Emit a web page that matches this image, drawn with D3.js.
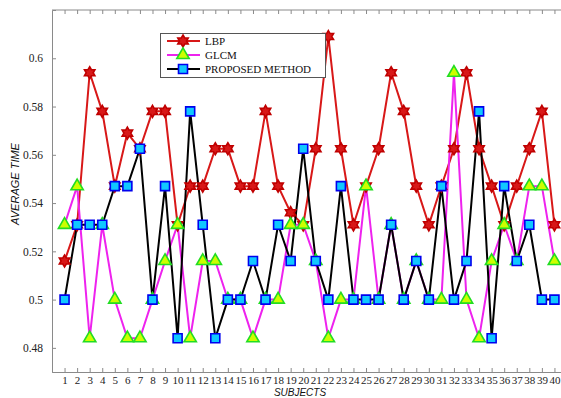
<!DOCTYPE html>
<html>
<head>
<meta charset="utf-8">
<script src="https://cdn.jsdelivr.net/npm/d3@7"></script>
<style>
  body { margin: 0; background: #fff; }
  svg { display: block; }
</style>
</head>
<body>
<div id="chart"></div>
<script>
const subjects = d3.range(1, 41);
const yTicks = [0.48, 0.5, 0.52, 0.54, 0.56, 0.58, 0.6];

const lbp = [0.516, 0.531, 0.594, 0.578, 0.547, 0.569, 0.5625, 0.578, 0.578, 0.531,
  0.547, 0.547, 0.5625, 0.5625, 0.547, 0.547, 0.578, 0.547, 0.536, 0.531,
  0.5625, 0.609, 0.5625, 0.531, 0.547, 0.5625, 0.594, 0.578, 0.547, 0.531,
  0.547, 0.5625, 0.594, 0.5625, 0.547, 0.531, 0.547, 0.5625, 0.578, 0.531];

const glcm = [0.531, 0.547, 0.484, 0.531, 0.5, 0.484, 0.484, 0.5, 0.516, 0.531,
  0.484, 0.516, 0.516, 0.5, 0.5, 0.484, 0.5, 0.5, 0.531, 0.531,
  0.516, 0.484, 0.5, 0.5, 0.547, 0.5, 0.531, 0.5, 0.516, 0.5,
  0.5, 0.594, 0.5, 0.484, 0.516, 0.531, 0.516, 0.547, 0.547, 0.516];

const proposed = [0.5, 0.531, 0.531, 0.531, 0.547, 0.547, 0.5625, 0.5, 0.547, 0.484,
  0.578, 0.531, 0.484, 0.5, 0.5, 0.516, 0.5, 0.531, 0.516, 0.5625,
  0.516, 0.5, 0.547, 0.5, 0.5, 0.5, 0.531, 0.5, 0.516, 0.5,
  0.547, 0.5, 0.516, 0.578, 0.484, 0.547, 0.516, 0.531, 0.5, 0.5];

const width = 561, height = 398;
const margin = {top: 10, right: -6, bottom: 26, left: 52};

const svg = d3.select("#chart").append("svg")
  .attr("width", width).attr("height", height);

const x = d3.scaleLinear().domain([0, 41]).range([margin.left, width - margin.right]);
const y = d3.scaleLinear().domain([0.47, 0.62]).range([height - margin.bottom, margin.top]);

const axisColor = "#8a8a8a";
const serif = "'Liberation Serif', 'DejaVu Serif', serif";

// frame
svg.append("line")
  .attr("x1", x(0)).attr("x2", x(41)).attr("y1", y(0.62)).attr("y2", y(0.62))
  .attr("stroke", axisColor);

const xAxis = svg.append("g")
  .attr("transform", `translate(0,${y(0.47)})`)
  .call(d3.axisBottom(x).tickValues(subjects).tickSize(-4).tickPadding(4).tickFormat(d3.format("d")));
const xTop = svg.append("g")
  .attr("transform", `translate(0,${y(0.62)})`)
  .call(d3.axisTop(x).tickValues(subjects).tickSize(-4).tickFormat(""));
const yAxis = svg.append("g")
  .attr("transform", `translate(${x(0)},0)`)
  .call(d3.axisLeft(y).tickValues(yTicks).tickSize(-4).tickPadding(9)
    .tickFormat(d => String(+d.toFixed(2))));

[xAxis, xTop, yAxis].forEach(g => {
  g.select(".domain").attr("stroke", axisColor);
  g.selectAll(".tick line").attr("stroke", axisColor);
  g.selectAll("text").attr("fill", "#222").style("font-family", serif).style("font-size", "11.5px");
});
xAxis.selectAll("text").style("font-size", "11px");
xTop.select(".domain").remove();

// axis titles
svg.append("text")
  .attr("x", 300).attr("y", 395.5)
  .attr("text-anchor", "middle")
  .style("font-family", "'Liberation Sans', Arial, sans-serif")
  .style("font-style", "italic").style("font-size", "10px").attr("fill", "#111")
  .text("SUBJECTS");
svg.append("text")
  .attr("transform", `translate(19,${184}) rotate(-90)`)
  .attr("text-anchor", "middle")
  .style("font-family", "'Liberation Sans', Arial, sans-serif")
  .style("font-style", "italic").style("font-size", "11px").attr("fill", "#111")
  .text("AVERAGE TIME");

// markers
function hexagram(r) {
  const pts = [];
  for (let i = 0; i < 12; i++) {
    const a = -Math.PI / 2 + i * Math.PI / 6;
    const rr = i % 2 === 0 ? r : r / Math.sqrt(3);
    pts.push([rr * Math.cos(a), rr * Math.sin(a)]);
  }
  return "M" + pts.map(p => p.join(",")).join("L") + "Z";
}
const triangle = d3.symbol().type(d3.symbolTriangle).size(66)();

const series = [
  {name: "LBP", values: lbp, color: "#d81818", shape: hexagram(6), fill: "#d81818", stroke: "#c00000"},
  {name: "GLCM", values: glcm, color: "#ee22ee", shape: triangle, fill: "#ccff00", stroke: "#22dd22"},
  {name: "PROPOSED METHOD", values: proposed, color: "#000000", shape: "M-4.5,-4.5H4.5V4.5H-4.5Z", fill: "#10c8ff", stroke: "#0000ee"}
];

const line = d3.line().x((d, i) => x(subjects[i])).y(d => y(d));

series.forEach(s => {
  svg.append("path")
    .datum(s.values)
    .attr("fill", "none")
    .attr("stroke", s.color)
    .attr("stroke-width", 2)
    .attr("d", line);
});
series.forEach(s => {
  svg.append("g").selectAll("path")
    .data(s.values)
    .join("path")
    .attr("transform", (d, i) => `translate(${x(subjects[i])},${y(d)})`)
    .attr("d", s.shape)
    .attr("fill", s.fill)
    .attr("stroke", s.stroke)
    .attr("stroke-width", 1.6);
});

// legend
const legend = svg.append("g");
legend.append("rect")
  .attr("x", 160.5).attr("y", 33.5).attr("width", 165).attr("height", 44)
  .attr("fill", "#fff").attr("stroke", "#555");
series.forEach((s, i) => {
  const ly = 41 + i * 14;
  legend.append("line")
    .attr("x1", 167).attr("x2", 200).attr("y1", ly).attr("y2", ly)
    .attr("stroke", s.color).attr("stroke-width", 2);
  legend.append("path")
    .attr("transform", `translate(183,${ly})`)
    .attr("d", s.shape)
    .attr("fill", s.fill).attr("stroke", s.stroke).attr("stroke-width", 1.6);
  legend.append("text")
    .attr("x", 205).attr("y", ly + 4)
    .style("font-family", serif).style("font-size", "11px").attr("fill", "#111")
    .text(s.name);
});
</script>
</body>
</html>
